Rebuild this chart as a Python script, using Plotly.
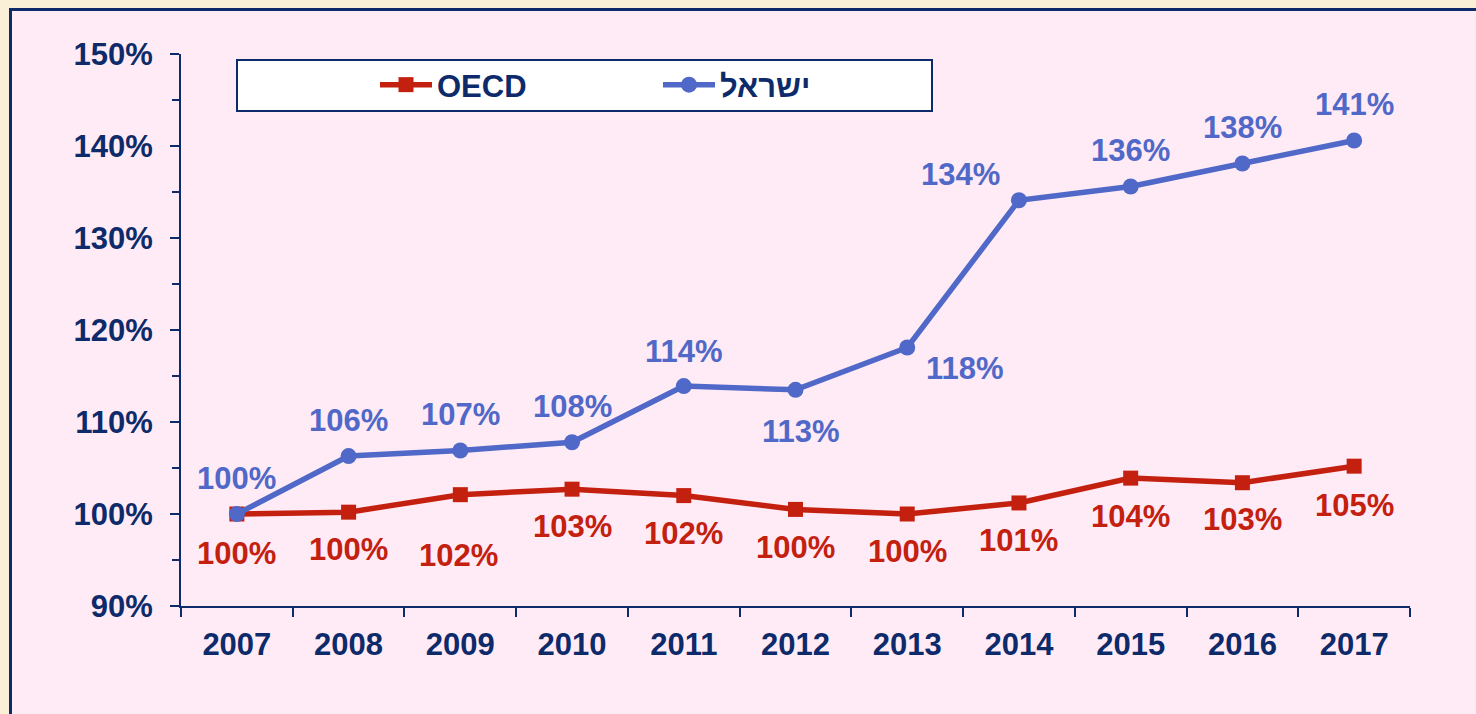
import plotly.graph_objects as go

years = ["2007", "2008", "2009", "2010", "2011", "2012", "2013", "2014", "2015", "2016", "2017"]
israel = [100.0, 106.3, 106.9, 107.8, 113.9, 113.5, 118.1, 134.1, 135.6, 138.1, 140.6]
oecd = [100.0, 100.2, 102.1, 102.7, 102.0, 100.5, 100.0, 101.2, 103.9, 103.4, 105.2]
israel_labels = ["100%", "106%", "107%", "108%", "114%", "113%", "118%", "134%", "136%", "138%", "141%"]
oecd_labels = ["100%", "100%", "102%", "103%", "102%", "100%", "100%", "101%", "104%", "103%", "105%"]
series_names = ["OECD", "ישראל"]
y_ticks = [90, 100, 110, 120, 130, 140, 150]

# label offsets (style, in pixels)
israel_dx = [0, 0, 0, 0, 0, 5, 58, -58, 0, 0, 0]
israel_dy = [36, 36, 36, 36, 35, -42, -21, 26, 36, 36, 36]
oecd_dx = [0, 0, -2, 0, 0, 0, 0, 0, 0, 0, 0]
oecd_dy = [-39, -37, -61, -37, -38, -38, -37, -38, -38, -37, -39]

NAVY = "#0D2A6B"
BLUE = "#5068C8"
RED = "#C4200F"
PINK = "#FFEBF5"
OUTER = "#FAF0D8"
FONT = "Liberation Sans, Arial, sans-serif"
FS = 31

fig = go.Figure()
fig.add_trace(go.Scatter(
    x=years, y=oecd, name=series_names[0], mode="lines+markers",
    line=dict(color=RED, width=5.5),
    marker=dict(symbol="square", size=15, color=RED),
))
fig.add_trace(go.Scatter(
    x=years, y=israel, name=series_names[1], mode="lines+markers",
    line=dict(color=BLUE, width=5.5),
    marker=dict(symbol="circle", size=16, color=BLUE),
))

annotations = []
for i, yr in enumerate(years):
    annotations.append(dict(
        x=i, y=israel[i], xref="x", yref="y", text=israel_labels[i], showarrow=False,
        xshift=israel_dx[i], yshift=israel_dy[i],
        font=dict(family=FONT, size=FS, color=BLUE, weight="bold"),
    ))
    annotations.append(dict(
        x=i, y=oecd[i], xref="x", yref="y", text=oecd_labels[i], showarrow=False,
        xshift=oecd_dx[i], yshift=oecd_dy[i],
        font=dict(family=FONT, size=FS, color=RED, weight="bold"),
    ))

L, R, T, B = 181, 66, 54, 108
W, H = 1476, 714
pw, ph = W - L - R, H - T - B

def px_x(p):
    return (p - L) / pw

def px_y(p):
    return (H - B - p) / ph

shapes = [
    dict(type="rect", xref="paper", yref="paper", layer="below",
         x0=px_x(10.5), x1=1.2, y0=-0.4, y1=px_y(9.5),
         fillcolor=PINK, line=dict(color=NAVY, width=3)),
    dict(type="rect", xref="paper", yref="paper", layer="above",
         x0=px_x(237), x1=px_x(932), y0=px_y(111), y1=px_y(60),
         fillcolor="white", line=dict(color=NAVY, width=2)),
]

fig.update_layout(
    width=W, height=H,
    margin=dict(l=L, r=R, t=T, b=B),
    paper_bgcolor=OUTER,
    plot_bgcolor="rgba(0,0,0,0)",
    font=dict(family=FONT, size=FS, color=NAVY, weight="bold"),
    showlegend=True,
    legend=dict(
        orientation="h", x=px_x(375), y=px_y(58), xanchor="left", yanchor="top",
        bgcolor="rgba(0,0,0,0)", borderwidth=0,
        font=dict(family=FONT, size=FS, color=NAVY, weight="bold"),
        entrywidth=216, itemwidth=52,
    ),
    xaxis=dict(
        type="category", range=[-0.5, 10.5], tickson="boundaries",
        ticks="outside", ticklen=9, tickwidth=2, tickcolor=NAVY,
        showline=True, linecolor=NAVY, linewidth=2, showgrid=False, zeroline=False,
        tickfont=dict(family=FONT, size=FS, color=NAVY, weight="bold"),
        ticklabelstandoff=10,
    ),
    yaxis=dict(
        range=[90, 150], tickvals=y_ticks, ticktext=[f"{v}%" for v in y_ticks],
        ticks="outside", ticklen=9, tickwidth=2, tickcolor=NAVY,
        minor=dict(dtick=5, ticks="outside", ticklen=7, tickwidth=2, tickcolor=NAVY, showgrid=False),
        showline=True, linecolor=NAVY, linewidth=2, showgrid=False, zeroline=False,
        tickfont=dict(family=FONT, size=FS, color=NAVY, weight="bold"),
        ticklabelstandoff=11,
    ),
    shapes=shapes,
    annotations=annotations,
)

fig.write_html(
    "out.html",
    config={"displayModeBar": False},
    post_script="document.body.style.margin='0';document.body.style.overflow='hidden';",
)
